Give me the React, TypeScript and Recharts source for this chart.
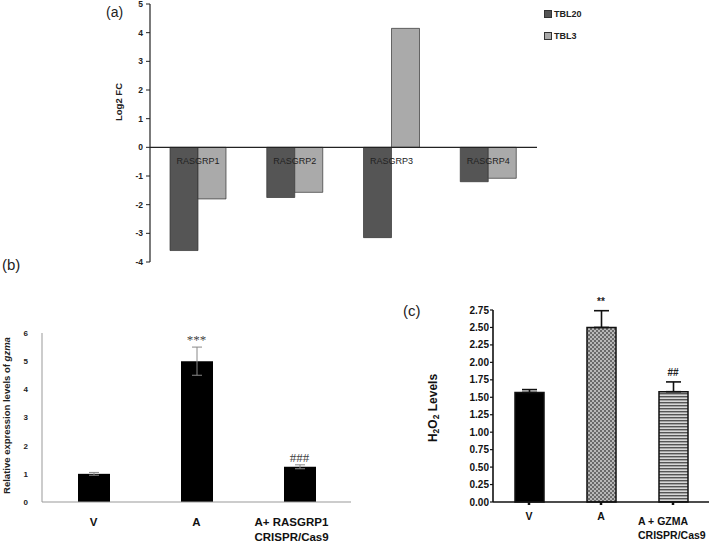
import React from 'react';
import { BarChart, Bar, XAxis, YAxis, ReferenceLine, ReferenceDot, ErrorBar, LabelList, Legend, Cell } from 'recharts';

// ---------- Panel (a) data ----------
const genes = ['RASGRP1', 'RASGRP2', 'RASGRP3', 'RASGRP4'];
const tbl20 = [-3.6, -1.75, -3.15, -1.2];
const tbl3 = [-1.8, -1.57, 4.15, -1.08];
const log2Ticks = [-4, -3, -2, -1, 0, 1, 2, 3, 4, 5];
const seriesA = [
  { key: 'TBL20', color: '#555555' },
  { key: 'TBL3', color: '#aaaaaa' },
];

// ---------- Panel (b) data ----------
const gzmaGroups = ['V', 'A', 'A+ RASGRP1\nCRISPR/Cas9'];
const gzmaValues = [1.0, 5.0, 1.25];
const gzmaErrors = [0.05, 0.5, 0.07];
const gzmaMarks = ['', '***', '###'];
const gzmaTicks = [0, 1, 2, 3, 4, 5, 6];

// ---------- Panel (c) data ----------
const h2o2Groups = ['V', 'A', 'A + GZMA\nCRISPR/Cas9'];
const h2o2Values = [1.57, 2.5, 1.58];
const h2o2Errors = [0.04, 0.24, 0.14];
const h2o2Marks = ['', '**', '##'];
const h2o2Ticks = [0, 0.25, 0.5, 0.75, 1.0, 1.25, 1.5, 1.75, 2.0, 2.25, 2.5, 2.75];
const h2o2Fills = ['#000000', 'url(#checker)', 'url(#stripes)'];

const SANS = "'Liberation Sans', Arial, sans-serif";
const SERIF = "'Liberation Serif', 'Times New Roman', serif";

const dataA = genes.map((g, i) => ({ name: g, TBL20: tbl20[i], TBL3: tbl3[i] }));
const dataB = gzmaGroups.map((g, i) => ({ name: g, value: gzmaValues[i], err: gzmaErrors[i], mark: gzmaMarks[i] }));
const dataC = h2o2Groups.map((g, i) => ({ name: g, value: h2o2Values[i], err: [0, h2o2Errors[i]], top: h2o2Values[i] + h2o2Errors[i], mark: h2o2Marks[i] }));

const GeneLabel = (p: any) => {
  const vb = p.viewBox ?? p;
  const x = vb.x;
  const base = vb.y + vb.height;
  return (
    <text x={x} y={base + 17} textAnchor="middle" fontSize={9} fill="#222" fontFamily={SANS}>
      {p.value}
    </text>
  );
};

const LegendA = () => (
  <div style={{ fontFamily: SANS, fontSize: 9, fontWeight: 700, color: '#222' }}>
    {seriesA.map((s) => (
      <div key={s.key} style={{ display: 'flex', alignItems: 'center', height: 12, marginBottom: 10 }}>
        <span style={{ display: 'inline-block', width: 6, height: 6, background: s.color, border: '0.5px solid #333', marginRight: 2 }} />
        <span>{s.key}</span>
      </div>
    ))}
  </div>
);

const makeMultiTick = (fontSize: number, anchorShift: number, firstDy: number, multiExtra: number, lineH: number) => (props: any) => {
  const { x, y, payload } = props;
  const lines = String(payload.value).split('\n');
  const multi = lines.length > 1;
  return (
    <text
      x={multi ? x - anchorShift : x}
      y={y}
      textAnchor={multi ? 'start' : 'middle'}
      fontSize={fontSize}
      fontWeight={700}
      fill="#111"
      fontFamily={SANS}
    >
      {lines.map((l, i) => (
        <tspan key={i} x={multi ? x - anchorShift : x} dy={i === 0 ? firstDy + (multi ? multiExtra : 0) : lineH}>
          {l}
        </tspan>
      ))}
    </text>
  );
};

const TickB = makeMultiTick(11.5, 45, 16, 0, 15);
const TickC = makeMultiTick(10.5, 35, 13, 5, 14);

export default function App() {
  return (
    <div style={{ position: 'absolute', left: 0, top: 0, width: 709, height: 544, background: '#fff' }}>
      {/* Panel (a) */}
      <div style={{ position: 'absolute', left: 0, top: 0 }}>
        <BarChart width={709} height={270} data={dataA} margin={{ top: 4, right: 172, bottom: 8, left: 110 }} barGap={0} barSize={28}>
          <XAxis dataKey="name" hide />
          <YAxis
            domain={[-4, 5]}
            ticks={log2Ticks}
            interval={0}
            width={40}
            tickSize={4}
            tickMargin={3}
            axisLine={{ stroke: '#222', strokeWidth: 1.2 }}
            tickLine={{ stroke: '#222' }}
            tick={{ fontSize: 8.5, fontWeight: 700, fill: '#222', fontFamily: SANS }}
            label={{
              content: (p: any) => {
                const vb = p.viewBox;
                const cx = vb.x + 8;
                const cy = vb.y + 98;
                return (
                  <text x={cx} y={cy} transform={`rotate(-90 ${cx} ${cy})`} textAnchor="middle" dominantBaseline="central" fontSize={9.5} fontWeight={700} fill="#222" fontFamily={SANS}>
                    Log2 FC
                  </text>
                );
              },
            }}
          />
          {seriesA.map((s) => (
            <Bar key={s.key} dataKey={s.key} fill={s.color} stroke="#333" strokeWidth={0.7} isAnimationActive={false}>
              {s.key === 'TBL3' ? <LabelList dataKey="name" content={GeneLabel} /> : null}
            </Bar>
          ))}
          <ReferenceLine y={0} stroke="#222" strokeWidth={1.3} />
          <Legend layout="vertical" align="center" verticalAlign="middle" wrapperStyle={{ left: 544, top: 8, width: 70 }} content={() => <LegendA />} />
        </BarChart>
      </div>
      <div style={{ position: 'absolute', left: 106, top: 4, fontFamily: SANS, fontSize: 14, lineHeight: '16px', color: '#222' }}>(a)</div>

      {/* Panel (b) */}
      <div style={{ position: 'absolute', left: 0, top: 270 }}>
        <BarChart width={360} height={274} data={dataB} margin={{ top: 63, right: 9, bottom: 0, left: 12 }} barSize={32}>
          <XAxis dataKey="name" height={42} interval={0} tickLine={false} axisLine={{ stroke: '#999' }} tick={TickB} />
          <YAxis
            domain={[0, 6]}
            ticks={gzmaTicks}
            interval={0}
            width={30}
            tickLine={false}
            tickMargin={8}
            axisLine={{ stroke: '#999' }}
            tick={{ fontSize: 8, fontWeight: 700, fill: '#222', fontFamily: SANS }}
            label={{
              content: (p: any) => {
                const vb = p.viewBox;
                const cx = vb.x - 6;
                const cy = vb.y + vb.height / 2 - 2;
                return (
                  <text x={cx} y={cy} transform={`rotate(-90 ${cx} ${cy})`} textAnchor="middle" dominantBaseline="central" fontSize={9.5} fontWeight={700} fill="#222" fontFamily={SANS}>
                    Relative expression levels of <tspan fontStyle="italic">gzma</tspan>
                  </text>
                );
              },
            }}
          />
          <Bar dataKey="value" fill="#000" isAnimationActive={false}>
            <ErrorBar dataKey="err" width={5} stroke="#888" strokeWidth={1} />
          </Bar>
          {dataB.map((d) =>
            d.mark ? (
              <ReferenceDot
                key={d.name}
                x={d.name}
                y={d.value + d.err}
                r={0}
                fill="none"
                stroke="none"
                label={{ value: d.mark, position: 'top', offset: 3, fontSize: 13, fill: '#444', fontFamily: SERIF }}
              />
            ) : null
          )}
        </BarChart>
      </div>
      <div style={{ position: 'absolute', left: 2, top: 256, fontFamily: SANS, fontSize: 15, lineHeight: '17px', color: '#222' }}>(b)</div>

      {/* Panel (c) */}
      <div style={{ position: 'absolute', left: 360, top: 270 }}>
        <BarChart width={349} height={274} data={dataC} margin={{ top: 40, right: 0, bottom: 0, left: 97 }} barSize={29}>
          <defs>
            <pattern id="checker" width={4} height={4} patternUnits="userSpaceOnUse">
              <rect x={0} y={0} width={4} height={4} fill="#b8b8b8" />
              <rect x={0} y={0} width={2} height={2} fill="#6a6a6a" />
              <rect x={2} y={2} width={2} height={2} fill="#6a6a6a" />
            </pattern>
            <pattern id="stripes" width={4} height={3} patternUnits="userSpaceOnUse">
              <rect x={0} y={0} width={4} height={3} fill="#d8d8d8" />
              <rect x={0} y={0} width={4} height={1.4} fill="#555" />
            </pattern>
          </defs>
          <XAxis
            dataKey="name"
            height={42}
            interval={0}
            tickSize={3}
            tickMargin={2}
            axisLine={{ stroke: '#111', strokeWidth: 1.6 }}
            tickLine={{ stroke: '#111', strokeWidth: 2.5 }}
            tick={TickC}
          />
          <YAxis
            domain={[0, 2.75]}
            ticks={h2o2Ticks}
            interval={0}
            width={36}
            tickSize={3}
            tickMargin={1}
            axisLine={{ stroke: '#111', strokeWidth: 1.6 }}
            tickLine={{ stroke: '#111', strokeWidth: 1.2 }}
            tickFormatter={(v: number) => v.toFixed(2)}
            tick={{ fontSize: 10, fontWeight: 700, fill: '#111', fontFamily: SANS }}
            label={{
              content: (p: any) => {
                const vb = p.viewBox;
                const cx = vb.x - 24;
                const cy = vb.y + vb.height / 2 + 2;
                return (
                  <text x={cx} y={cy} transform={`rotate(-90 ${cx} ${cy})`} textAnchor="middle" dominantBaseline="central" fontSize={12} fontWeight={700} fill="#111" fontFamily={SANS}>
                    H<tspan fontSize={8.5} dy={3}>2</tspan>
                    <tspan dy={-3}>O</tspan>
                    <tspan fontSize={8.5} dy={3}>2</tspan>
                    <tspan dy={-3}> Levels</tspan>
                  </text>
                );
              },
            }}
          />
          <Bar dataKey="value" stroke="#111" strokeWidth={1.5} isAnimationActive={false}>
            {dataC.map((d, i) => (
              <Cell key={d.name} fill={h2o2Fills[i]} />
            ))}
            <ErrorBar dataKey="err" width={7.5} stroke="#111" strokeWidth={1.6} />
          </Bar>
          {dataC.map((d) =>
            d.mark ? (
              <ReferenceDot
                key={d.name}
                x={d.name}
                y={d.top}
                r={0}
                fill="none"
                stroke="none"
                label={{ value: d.mark, position: 'top', offset: 6, fontSize: 10, fontWeight: 700, fill: '#222', fontFamily: SANS }}
              />
            ) : null
          )}
        </BarChart>
      </div>
      <div style={{ position: 'absolute', left: 403, top: 302, fontFamily: SANS, fontSize: 15, lineHeight: '17px', color: '#222' }}>(c)</div>
    </div>
  );
}
